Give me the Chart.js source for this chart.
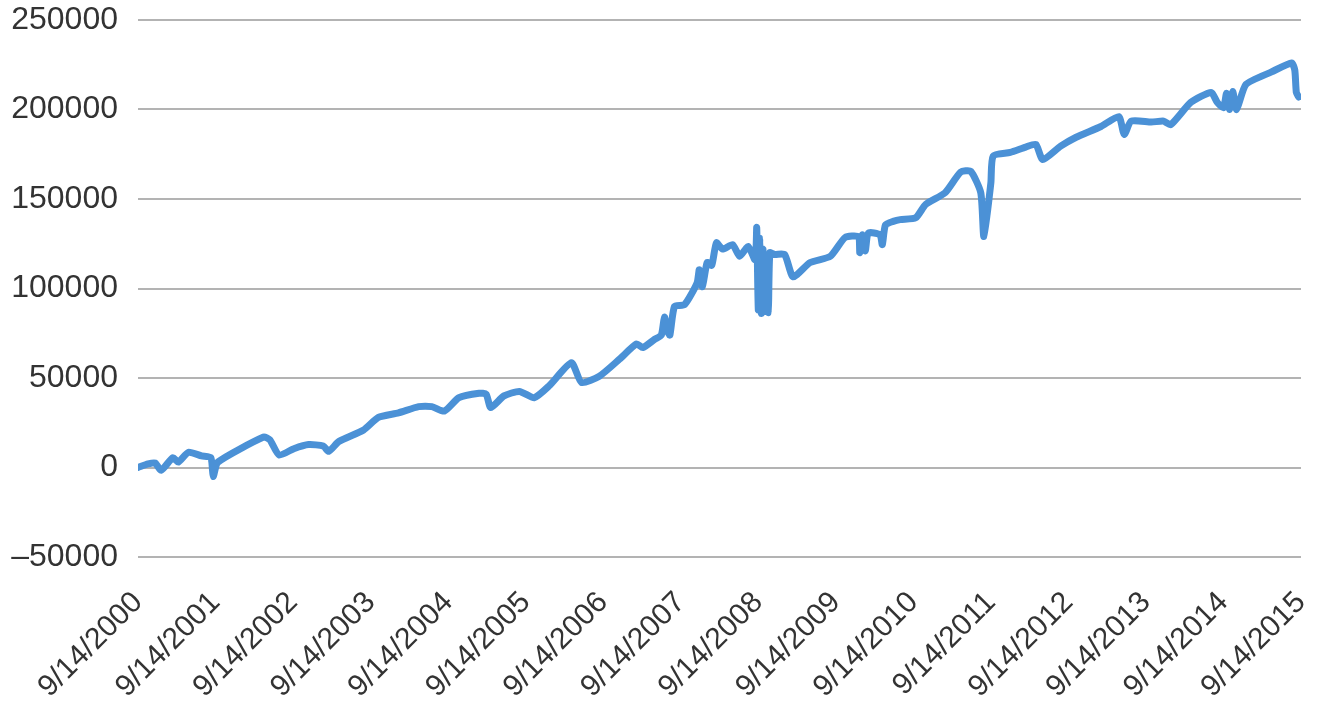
<!DOCTYPE html>
<html>
<head>
<meta charset="utf-8">
<script src="https://cdn.jsdelivr.net/npm/chart.js@4/dist/chart.umd.min.js"></script>
<style>
  body { margin: 0; background: #fff; }
  #wrap { width: 1325px; height: 714px; }
</style>
</head>
<body>
<div id="wrap"><canvas id="equityChart"></canvas></div>
<script>
// years elapsed since 9/14/2000
const years = [
  0, 0.13, 0.22, 0.30, 0.45, 0.52, 0.65, 0.82, 0.94, 0.97, 1.03,
  1.62, 1.70, 1.82, 2.01, 2.20, 2.39, 2.46, 2.59, 2.91, 3.10, 3.36,
  3.62, 3.79, 3.95, 4.14, 4.40, 4.49, 4.55, 4.72, 4.92, 5.11, 5.30,
  5.59, 5.72, 5.95, 6.21, 6.43, 6.51, 6.66, 6.75, 6.79, 6.83, 6.86,
  6.92, 7.05, 7.21, 7.24, 7.28, 7.34, 7.40, 7.46, 7.54, 7.67, 7.76,
  7.87, 7.96, 7.98, 8.00, 8.02, 8.04, 8.06, 8.08, 8.10, 8.13, 8.15,
  8.21, 8.34, 8.45, 8.67, 8.93, 9.12, 9.29, 9.31, 9.34, 9.38, 9.42,
  9.57, 9.60, 9.64, 9.74, 9.83, 10.03, 10.16, 10.41, 10.61, 10.74,
  10.87, 10.91, 11.00, 11.03, 11.25, 11.45, 11.58, 11.67, 11.90,
  12.10, 12.42, 12.65, 12.72, 12.81, 13.07, 13.23, 13.32, 13.58,
  13.84, 13.92, 14.00, 14.04, 14.08, 14.12, 14.17, 14.29, 14.62,
  14.88, 14.92, 14.94, 14.97
];

const equity = [
  0, 2000, 2500, -1500, 5500, 3000, 8500, 6500, 5500, -5000, 3000,
  17000, 15500, 7000, 10500, 12800, 12000, 9000, 14500, 21000, 28000, 30500,
  34000, 34000, 31500, 39000, 41500, 41000, 33500, 40000, 42500, 39000, 45500,
  58500, 47500, 51000, 60500, 69000, 67000, 71500, 74000, 84000, 76000, 74000,
  90000, 91000, 103000, 110500, 101000, 114500, 113000, 125500, 122000, 124500, 118000,
  123500, 116000, 134000, 88000, 128000, 86000, 122000, 87000, 118000, 86500, 120000,
  119000, 119000, 106500, 114500, 118000, 128500, 129000, 120000, 130000, 121000, 131000,
  130000, 124500, 135500, 137500, 138500, 139500, 147000, 153500, 165000, 165500,
  153500, 129000, 159000, 174000, 176000, 179000, 180500, 172000, 179500,
  184500, 190500, 196000, 186000, 193500, 193000, 193500, 191500, 204000,
  209500, 204000, 201000, 209000, 200000, 210000, 200000, 214000, 221000,
  226000, 222000, 209500, 207000
];

const tickLabels = [
  '9/14/2000', '9/14/2001', '9/14/2002', '9/14/2003', '9/14/2004',
  '9/14/2005', '9/14/2006', '9/14/2007', '9/14/2008', '9/14/2009',
  '9/14/2010', '9/14/2011', '9/14/2012', '9/14/2013', '9/14/2014',
  '9/14/2015'
];

const points = years.map((t, i) => ({ x: t, y: equity[i] }));

const ctx = document.getElementById('equityChart').getContext('2d');

new Chart(ctx, {
  type: 'line',
  data: {
    datasets: [{
      data: points,
      borderColor: '#4b91d6',
      borderWidth: 7,
      borderJoinStyle: 'round',
      borderCapStyle: 'round',
      pointRadius: 0,
      tension: 0.2,
      fill: false
    }]
  },
  options: {
    responsive: true,
    maintainAspectRatio: false,
    animation: false,
    layout: { padding: { top: 20, right: 24, left: 0, bottom: 0 } },
    plugins: {
      legend: { display: false },
      tooltip: { enabled: false }
    },
    scales: {
      x: {
        type: 'linear',
        min: 0,
        max: 15,
        grid: { display: false },
        border: { display: false },
        afterFit: (scale) => {
          scale.height = 157;
          scale.paddingRight = 0;
        },
        afterBuildTicks: (scale) => {
          scale.ticks = tickLabels.map((_, i) => ({ value: i }));
        },
        ticks: {
          autoSkip: false,
          minRotation: 45,
          maxRotation: 45,
          padding: 20,
          color: '#333',
          font: { family: 'Liberation Sans, Arial, sans-serif', size: 30 },
          callback: (v) => tickLabels[v]
        }
      },
      y: {
        min: -50000,
        max: 250000,
        grid: { color: '#b3b3b3', lineWidth: 2, drawTicks: false },
        border: { display: false },
        afterFit: (scale) => {
          scale.width = 138;
          scale.paddingTop = 0;
          scale.paddingBottom = 0;
        },
        ticks: {
          stepSize: 50000,
          padding: 20,
          color: '#333',
          font: { family: 'Liberation Sans, Arial, sans-serif', size: 32 },
          callback: (v) => v < 0 ? '\u2013' + Math.abs(v) : String(v)
        }
      }
    }
  }
});
</script>
</body>
</html>
